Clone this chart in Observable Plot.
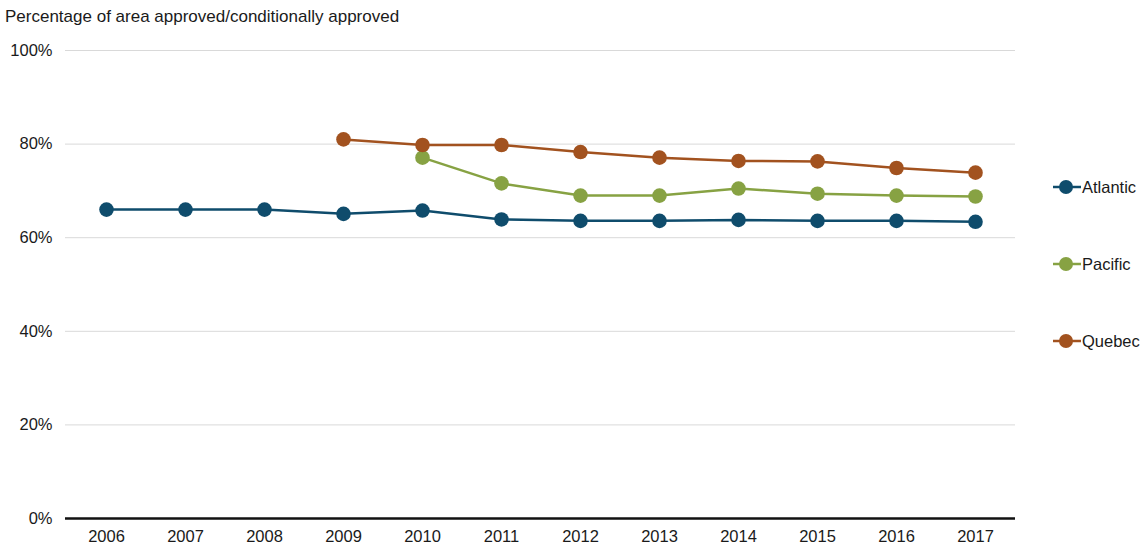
<!DOCTYPE html>
<html>
<head>
<meta charset="utf-8">
<script src="https://cdn.jsdelivr.net/npm/d3@7"></script>
<script src="https://cdn.jsdelivr.net/npm/@observablehq/plot@0.6"></script>
<style>
  html, body { margin: 0; padding: 0; background: #fff; }
  body { width: 1143px; height: 546px; position: relative; font-family: "Liberation Sans", Arial, sans-serif; overflow: hidden; }
  #title { position: absolute; left: 5px; top: 7px; font-size: 17px; color: #1a1a1a; }
  #chart { position: absolute; left: 0; top: 30px; }
  #legend { position: absolute; left: 1053px; top: 0; }
  .item { position: absolute; left: 0; display: flex; align-items: center; font-size: 16.5px; color: #1a1a1a; white-space: nowrap; }
  .item svg { display: block; margin-right: 1px; }
</style>
</head>
<body>
<div id="title">Percentage of area approved/conditionally approved</div>
<div id="chart"></div>
<div id="legend"></div>
<script>
const years = [2006, 2007, 2008, 2009, 2010, 2011, 2012, 2013, 2014, 2015, 2016, 2017];
const seriesNames = ["Atlantic", "Pacific", "Quebec"];
const seriesColors = ["#0f4c6c", "#87a243", "#a2521f"];
const atlantic = [66.0, 66.0, 66.0, 65.1, 65.8, 63.9, 63.6, 63.6, 63.8, 63.6, 63.6, 63.4];
const pacific  = [null, null, null, null, 77.1, 71.6, 69.0, 69.0, 70.5, 69.4, 69.0, 68.8];
const quebec   = [null, null, null, 81.0, 79.8, 79.8, 78.3, 77.1, 76.4, 76.3, 74.9, 73.9];
const yTicks = [0, 20, 40, 60, 80, 100];

const seriesValues = [atlantic, pacific, quebec];
const data = [];
seriesNames.forEach((name, i) => {
  years.forEach((yr, j) => {
    const v = seriesValues[i][j];
    if (v != null) data.push({ series: name, year: String(yr), value: v });
  });
});

const plot = Plot.plot({
  width: 1143,
  height: 516,
  marginLeft: 65,
  marginRight: 128,
  marginTop: 20,
  marginBottom: 28,
  style: { fontFamily: "Liberation Sans, Arial, sans-serif", fontSize: "16.5px", color: "#1a1a1a", background: "#fff" },
  x: { type: "point", domain: years.map(String), padding: 0.5, label: null, tickSize: 0, tickPadding: 12 },
  y: { domain: [0, 100], ticks: yTicks, tickFormat: d => d + "%", label: null, tickSize: 0, tickPadding: 13 },
  color: { domain: seriesNames, range: seriesColors },
  marks: [
    Plot.gridY(yTicks.filter(t => t > 0), { stroke: "#d9d9d9", strokeOpacity: 1, strokeWidth: 1 }),
    Plot.ruleY([0], { stroke: "#111", strokeWidth: 2.5 }),
    Plot.line(data, { x: "year", y: "value", z: "series", stroke: "series", strokeWidth: 2.5 }),
    Plot.dot(data, { x: "year", y: "value", fill: "series", r: 7.3 })
  ]
});
document.getElementById("chart").appendChild(plot);

const legendTops = [187, 264, 341];
const legend = document.getElementById("legend");
seriesNames.forEach((name, i) => {
  const item = document.createElement("div");
  item.className = "item";
  item.style.top = (legendTops[i] - 10) + "px";
  item.innerHTML = `<svg width="28" height="20"><line x1="0" y1="10" x2="28" y2="10" stroke="${seriesColors[i]}" stroke-width="2.5"/><circle cx="13" cy="10" r="7" fill="${seriesColors[i]}"/></svg><span>${name}</span>`;
  legend.appendChild(item);
});
</script>
</body>
</html>
